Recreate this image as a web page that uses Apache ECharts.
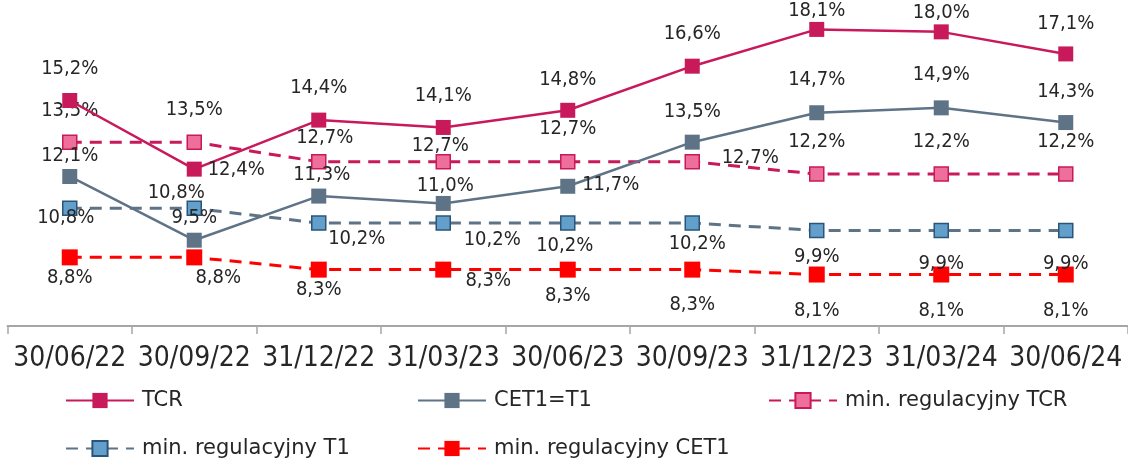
<!DOCTYPE html>
<html>
<head>
<meta charset="utf-8">
<script src="https://cdn.jsdelivr.net/npm/echarts@6/dist/echarts.min.js"></script>
<style>
  html, body { margin: 0; padding: 0; background: #fff; }
  #chart { width: 1128px; height: 459px; }
</style>
</head>
<body>
<div id="chart"></div>
<script>
const categories = ['30/06/22', '30/09/22', '31/12/22', '31/03/23', '30/06/23', '30/09/23', '31/12/23', '31/03/24', '30/06/24']

const tcr = [15.2, 12.4, 14.4, 14.1, 14.8, 16.6, 18.1, 18.0, 17.1]
const cet1 = [12.1, 9.5, 11.3, 11.0, 11.7, 13.5, 14.7, 14.9, 14.3]
const minTcr = [13.5, 13.5, 12.7, 12.7, 12.7, 12.7, 12.2, 12.2, 12.2]
const minT1 = [10.8, 10.8, 10.2, 10.2, 10.2, 10.2, 9.9, 9.9, 9.9]
const minCet1 = [8.8, 8.8, 8.3, 8.3, 8.3, 8.3, 8.1, 8.1, 8.1]

// label offsets from marker centre, px (hand placed labels in the original)
const tcrLabelOffset = [[0, -32], [42, 1], [0, -32], [0, -32], [0, -31], [0, -32], [0, -19], [0, -19], [0, -30]]
const cet1LabelOffset = [[0, -21], [0, -22], [3, -21], [2, -18], [43, -1], [0, -30], [0, -33], [0, -33], [0, -31]]
const minTcrLabelOffset = [[0, -31], [0, -32], [6, -24], [-3, -16], [0, -33], [58, -4], [0, -32], [0, -32], [0, -32]]
const minT1LabelOffset = [[-4, 9], [-18, -16], [38, 16], [49, 17], [-3, 23], [5, 21], [0, 26], [0, 33], [0, 33]]
const minCet1LabelOffset = [[0, 20], [24, 20], [0, 20], [45, 11], [0, 26], [0, 35], [0, 36], [0, 36], [0, 36]]

const FONT = 'DejaVu Sans Condensed'
const fmt = v => v.toFixed(1).replace('.', ',') + '%'

const withLabels = (values, offsets) => values.map((v, i) => ({
  value: v,
  label: { offset: offsets[i] },
}))

const labelStyle = {
  show: true,
  position: 'inside',
  align: 'center',
  verticalAlign: 'middle',
  fontFamily: FONT,
  fontSize: 20,
  color: '#262626',
  formatter: p => fmt(p.value),
}

const makeSeries = (name, values, offsets, line, item, size, z) => ({
  name,
  type: 'line',
  data: withLabels(values, offsets),
  symbol: 'rect',
  symbolSize: size,
  lineStyle: line,
  itemStyle: item,
  label: labelStyle,
  emphasis: { disabled: true },
  animation: false,
  z,
})

const makeLegend = (name, left, top) => ({
  data: [name],
  left,
  top,
  padding: 0,
  itemWidth: 68,
  itemHeight: 19,
  textStyle: {
    fontFamily: 'DejaVu Sans',
    fontSize: 21,
    color: '#262626',
    padding: [0, 0, 0, 3],
  },
})

const chart = echarts.init(document.getElementById('chart'))
chart.setOption({
  backgroundColor: '#fff',
  animation: false,
  grid: { left: 7.5, right: -1, top: 0, bottom: 133, containLabel: false },
  legend: [
    makeLegend('TCR', 65, 390),
    makeLegend('CET1=T1', 417, 390),
    makeLegend('min. regulacyjny TCR', 768, 390),
    makeLegend('min. regulacyjny T1', 65, 438),
    makeLegend('min. regulacyjny CET1', 417, 438),
  ],
  xAxis: {
    type: 'category',
    data: categories,
    boundaryGap: true,
    axisLine: { lineStyle: { color: '#A6A6A6', width: 2 } },
    axisTick: { show: true, length: 8, lineStyle: { color: '#A6A6A6', width: 1.5 } },
    axisLabel: {
      fontFamily: FONT,
      fontSize: 28,
      color: '#262626',
      margin: 19,
      interval: 0,
    },
  },
  yAxis: {
    type: 'value',
    min: 6,
    max: 19.3,
    show: false,
    splitLine: { show: false },
  },
  series: [
    makeSeries('min. regulacyjny CET1', minCet1, minCet1LabelOffset,
      { color: '#FF0000', width: 3, type: [12, 8] },
      { color: '#FF0000' }, 16, 2),
    makeSeries('min. regulacyjny T1', minT1, minT1LabelOffset,
      { color: '#5F7387', width: 3, type: [12, 8] },
      { color: '#62A0CB', borderColor: '#2A5578', borderWidth: 1.5 }, 14, 3),
    makeSeries('min. regulacyjny TCR', minTcr, minTcrLabelOffset,
      { color: '#C8195A', width: 3, type: [12, 8] },
      { color: '#EE6F9A', borderColor: '#C8195A', borderWidth: 1.5 }, 14, 4),
    makeSeries('CET1=T1', cet1, cet1LabelOffset,
      { color: '#5F7387', width: 2.5 },
      { color: '#5F7387' }, 15, 5),
    makeSeries('TCR', tcr, tcrLabelOffset,
      { color: '#C8195A', width: 2.5 },
      { color: '#C8195A' }, 15, 6),
  ],
})

window.addEventListener('resize', () => chart.resize())
</script>
</body>
</html>
